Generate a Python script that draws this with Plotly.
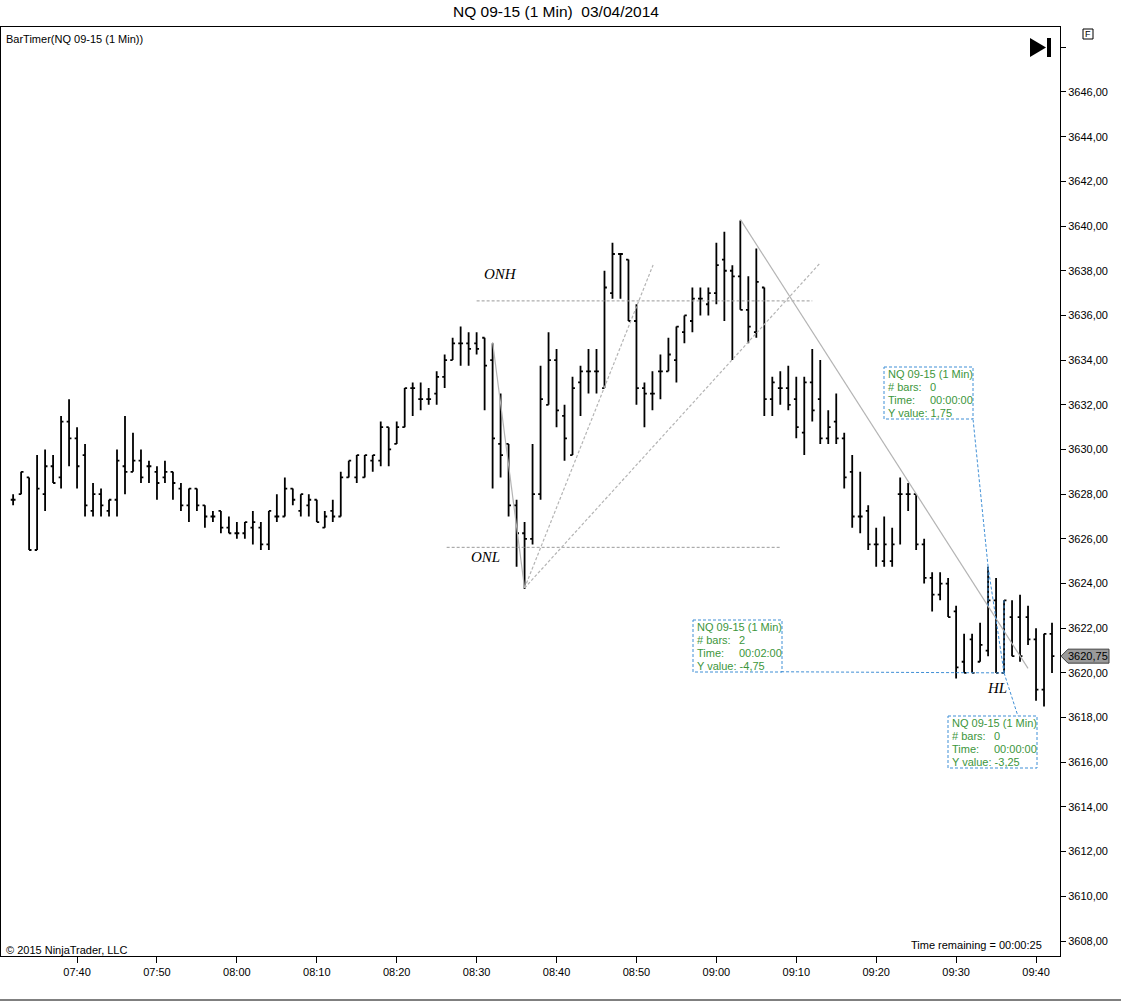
#!/usr/bin/env python3
import datetime as dt

import plotly.graph_objects as go

# ---- chart data (1 min bars, 07:32 .. 09:42) ----
DAY = "2014-03-04"
FIRST_BAR = "07:32"

opens = [
    3627.75, 3628.0, 3628.75, 3625.5, 3628.0, 3629.25, 3628.75, 3631.25, 3630.5, 3629.75,
    3627.25, 3628.0, 3627.25, 3627.75, 3629.25, 3629.0, 3629.5, 3629.25, 3629.0, 3628.75,
    3629.0, 3628.25, 3627.5, 3628.25, 3627.5, 3627.0, 3627.25, 3626.5, 3626.25, 3626.25,
    3626.5, 3626.5, 3625.75, 3627.0, 3627.0, 3628.25, 3627.25, 3627.5, 3627.75, 3626.5,
    3627.25, 3627.0, 3628.75, 3628.75, 3628.75, 3629.5, 3629.5, 3631.0, 3630.25, 3631.0,
    3632.75, 3632.25, 3632.25, 3632.5, 3633.25, 3634.0, 3634.75, 3634.75, 3634.75, 3635.0,
    3634.0, 3630.25, 3630.25, 3627.5, 3626.25, 3626.0, 3628.0, 3632.0, 3634.0, 3631.5,
    3629.75, 3633.0, 3633.5, 3633.5, 3632.75, 3637.0, 3638.75, 3638.5, 3635.75, 3632.75,
    3632.5, 3633.5, 3633.5, 3634.0, 3635.25, 3635.75, 3636.75, 3636.5, 3637.0, 3638.5,
    3638.0, 3637.75, 3636.25, 3635.25, 3637.25, 3632.25, 3632.75, 3632.75, 3632.25, 3630.75,
    3633.0, 3632.25, 3630.5, 3631.25, 3630.5, 3629.0, 3627.0, 3627.25, 3625.75, 3625.0,
    3625.0, 3628.0, 3628.0, 3628.0, 3625.75, 3624.25, 3623.5, 3624.0, 3622.75, 3620.5,
    3621.5, 3620.5, 3621.0, 3623.25, 3620.0, 3622.5, 3622.5, 3622.5, 3621.5, 3619.25,
    3621.75,
]
highs = [
    3628.0, 3629.0, 3628.75, 3629.75, 3630.0, 3629.75, 3631.5, 3632.25, 3631.0, 3630.25,
    3628.5, 3628.25, 3627.75, 3630.0, 3631.5, 3630.75, 3630.0, 3629.5, 3629.25, 3629.5,
    3629.0, 3628.5, 3628.25, 3628.25, 3627.5, 3627.25, 3627.25, 3627.0, 3626.75, 3626.75,
    3627.25, 3626.75, 3627.25, 3628.0, 3628.75, 3628.25, 3628.0, 3628.0, 3627.75, 3627.25,
    3627.75, 3629.0, 3629.5, 3629.75, 3629.75, 3629.75, 3631.25, 3631.0, 3631.25, 3632.75,
    3633.0, 3633.0, 3632.75, 3633.5, 3634.25, 3635.0, 3635.5, 3635.25, 3635.25, 3635.0,
    3634.75, 3632.5, 3630.25, 3627.75, 3626.75, 3630.25, 3633.75, 3635.25, 3634.5, 3632.0,
    3633.25, 3633.75, 3634.5, 3634.5, 3638.0, 3639.25, 3638.75, 3638.5, 3636.5, 3633.0,
    3633.5, 3634.25, 3635.0, 3635.5, 3636.0, 3637.25, 3637.25, 3637.25, 3639.25, 3639.75,
    3638.25, 3640.25, 3637.75, 3639.0, 3637.25, 3633.25, 3633.5, 3633.75, 3633.25, 3633.25,
    3634.5, 3634.0, 3631.75, 3632.5, 3630.75, 3629.75, 3629.0, 3627.5, 3626.5, 3627.0,
    3626.5, 3628.75, 3628.5, 3628.0, 3626.0, 3624.5, 3624.5, 3624.25, 3623.0, 3621.75,
    3621.75, 3622.25, 3624.75, 3624.25, 3623.25, 3623.25, 3623.5, 3623.0, 3622.0, 3621.75,
    3622.25,
]
lows = [
    3627.5, 3628.0, 3625.5, 3625.5, 3627.25, 3628.5, 3628.25, 3629.25, 3628.25, 3627.0,
    3627.0, 3627.0, 3627.0, 3627.0, 3628.0, 3629.0, 3628.5, 3628.5, 3627.75, 3628.5,
    3627.75, 3627.25, 3626.75, 3627.25, 3626.5, 3626.75, 3626.25, 3626.25, 3626.0, 3626.0,
    3625.75, 3625.5, 3625.5, 3626.75, 3627.0, 3627.5, 3627.0, 3627.0, 3626.75, 3626.5,
    3626.75, 3627.0, 3628.75, 3628.5, 3628.75, 3629.0, 3629.25, 3629.25, 3630.25, 3631.0,
    3631.5, 3631.75, 3632.0, 3632.0, 3632.75, 3634.0, 3633.75, 3633.75, 3634.25, 3631.75,
    3628.25, 3628.75, 3627.0, 3624.75, 3623.75, 3625.75, 3627.75, 3632.0, 3631.0, 3629.5,
    3629.75, 3631.5, 3632.5, 3632.5, 3632.75, 3636.75, 3636.75, 3635.75, 3632.0, 3631.0,
    3631.75, 3632.25, 3633.5, 3633.0, 3634.75, 3635.25, 3636.0, 3636.0, 3636.5, 3635.75,
    3634.0, 3636.25, 3634.75, 3635.0, 3631.5, 3631.5, 3632.0, 3631.75, 3630.5, 3629.75,
    3631.25, 3630.25, 3630.25, 3630.25, 3628.25, 3626.5, 3626.25, 3625.5, 3624.75, 3624.75,
    3624.75, 3625.75, 3627.25, 3625.5, 3624.0, 3622.75, 3623.25, 3622.5, 3619.75, 3620.0,
    3620.0, 3620.5, 3620.75, 3620.0, 3620.0, 3620.75, 3620.5, 3621.25, 3618.75, 3618.5,
    3620.0,
]
closes = [
    3627.75, 3629.0, 3625.5, 3628.25, 3629.25, 3628.5, 3631.25, 3630.5, 3629.25, 3627.5,
    3628.0, 3627.5, 3627.75, 3629.5, 3629.0, 3629.5, 3628.75, 3629.25, 3628.5, 3629.0,
    3628.5, 3627.5, 3628.25, 3627.5, 3627.0, 3627.0, 3626.5, 3626.25, 3626.25, 3626.75,
    3626.75, 3625.75, 3627.25, 3627.0, 3628.25, 3627.75, 3628.0, 3627.75, 3626.75, 3627.0,
    3627.0, 3628.75, 3629.5, 3629.75, 3629.75, 3629.75, 3631.0, 3630.0, 3631.0, 3632.75,
    3632.75, 3632.25, 3632.25, 3633.25, 3634.0, 3634.75, 3634.75, 3634.5, 3634.5, 3633.75,
    3630.5, 3629.75, 3627.5, 3626.25, 3626.0, 3628.0, 3632.25, 3634.0, 3631.75, 3630.5,
    3632.75, 3633.5, 3633.5, 3633.5, 3637.25, 3638.75, 3638.75, 3635.75, 3632.75, 3632.5,
    3632.5, 3633.5, 3634.25, 3635.5, 3636.0, 3636.75, 3636.75, 3637.0, 3638.25, 3638.0,
    3637.75, 3636.25, 3635.5, 3637.5, 3632.25, 3633.0, 3632.75, 3632.0, 3631.0, 3633.0,
    3631.75, 3630.5, 3631.0, 3630.5, 3628.75, 3627.0, 3627.0, 3625.75, 3625.75, 3625.75,
    3625.75, 3628.0, 3628.0, 3625.75, 3624.25, 3623.5, 3624.0, 3622.5, 3620.25, 3620.0,
    3620.0, 3621.25, 3623.25, 3620.0, 3623.25, 3620.75, 3620.75, 3621.5, 3619.25, 3621.75,
    3620.75,
]
last_price = 3620.75

y_ticks = [3608, 3610, 3612, 3614, 3616, 3618, 3620, 3622, 3624, 3626, 3628,
           3630, 3632, 3634, 3636, 3638, 3640, 3642, 3644, 3646, 3648]
x_ticks = ["07:40", "07:50", "08:00", "08:10", "08:20", "08:30", "08:40",
           "08:50", "09:00", "09:10", "09:20", "09:30", "09:40"]

# drawn objects (time, price)
onh = ("08:30", "09:12", 3636.65)
onl = ("08:26:15", "09:08:05", 3625.62)
trend_lines = [  # start, end, dashed?
    (("08:32", 3634.8), ("08:36", 3623.8), False),
    (("08:36", 3623.8), ("08:52:05", 3638.26), True),
    (("08:36", 3623.8), ("09:13", 3638.35), True),
    (("09:03", 3640.3), ("09:39", 3620.2), False),
]
ruler_lines = [
    (("09:34", 3624.75), ("09:36", 3620.0)),
    (("09:36", 3620.0), ("09:08:05", 3620.05)),
    (("09:34", 3623.0), ("09:34", 3624.75)),
    (("09:34", 3624.75), ("09:32:07", 3631.36)),
    (("09:36", 3623.25), ("09:36", 3620.0)),
    (("09:36", 3620.0), ("09:37:44", 3618.07)),
]
text_labels = [("ONH", "08:33", 3637.85), ("ONL", "08:31:10", 3625.19), ("HL", "09:35:05", 3619.32)]
ruler_boxes = [
    # left, top (px), bars, time, y value
    (884, 367, "0", "00:00:00", "1,75"),
    (693, 620, "2", "00:02:00", "-4,75"),
    (948, 716, "0", "00:00:00", "-3,25"),
]

# ---- layout geometry ----
W, H = 1121, 1002
PL, PR, PT, PB = 1, 1060, 27, 956
Y_LO, Y_HI = 3607.329, 3648.909
FONT = "Liberation Sans, Arial, sans-serif"
BLUE = "#3f8fd6"
GREEN = "#3c963c"


def px(x):
    return (x - PL) / (PR - PL)


def py(y):
    return (PB - y) / (PB - PT)


def ts(hm):
    return f"{DAY} {hm}"


def note(txt, x, y, anchor="center", size=11, color="black"):
    return dict(text=txt, x=px(x), y=py(y), xref="paper", yref="paper", showarrow=False,
                xanchor=anchor, yanchor="middle", font=dict(family=FONT, size=size, color=color))


start = dt.datetime.fromisoformat(ts(FIRST_BAR))
times = [start + dt.timedelta(minutes=i) for i in range(len(opens))]

fig = go.Figure()
fig.add_trace(go.Ohlc(
    x=times, open=opens, high=highs, low=lows, close=closes,
    increasing=dict(line=dict(color="black", width=1.8)),
    decreasing=dict(line=dict(color="black", width=1.8)),
    tickwidth=0.3, hoverinfo="skip", showlegend=False,
))

shapes = []
for x0, x1, yv in (onh, onl):
    shapes.append(dict(type="line", xref="x", yref="y", x0=ts(x0), x1=ts(x1), y0=yv, y1=yv,
                       line=dict(color="#9a9a9a", width=1, dash="3px,2px")))
for (ta, pa), (tb, pb), dashed in trend_lines:
    shapes.append(dict(type="line", xref="x", yref="y", x0=ts(ta), y0=pa, x1=ts(tb), y1=pb,
                       line=dict(color="#b4b4b4", width=1.2, dash="3px,2px" if dashed else "solid")))
for (ta, pa), (tb, pb) in ruler_lines:
    shapes.append(dict(type="line", xref="x", yref="y", x0=ts(ta), y0=pa, x1=ts(tb), y1=pb,
                       line=dict(color=BLUE, width=1, dash="3px,2px")))

annotations = []
for txt, t, p in text_labels:
    annotations.append(dict(text=f"<i>{txt}</i>", x=ts(t), y=p, xref="x", yref="y", showarrow=False,
                            xanchor="center", yanchor="middle",
                            font=dict(family="Liberation Serif, Times New Roman, serif", size=15, color="black")))

for bx, by, nb, tm, yv in ruler_boxes:
    shapes.append(dict(type="rect", xref="paper", yref="paper", x0=px(bx), x1=px(bx + 89),
                       y0=py(by), y1=py(by + 52), line=dict(color=BLUE, width=1, dash="3px,2px")))
    rows = [("NQ 09-15 (1 Min)", None), ("# bars:", nb), ("Time:", tm), (f"Y value: {yv}", None)]
    for i, (lab, val) in enumerate(rows):
        yy = by + 7 + 13 * i
        annotations.append(note(lab, bx + 2, yy, "left", color=GREEN))
        if val is not None:
            annotations.append(note(val, bx + 44, yy, "left", color=GREEN))

# last price marker on the price axis
ly = PB - (last_price - Y_LO) / (Y_HI - Y_LO) * (PB - PT)
shapes.append(dict(type="path", xref="paper", yref="paper",
                   path=(f"M {px(1061)},{py(ly)} L {px(1068)},{py(ly - 7)} L {px(1109)},{py(ly - 7)} "
                         f"L {px(1109)},{py(ly + 7)} L {px(1068)},{py(ly + 7)} Z"),
                   fillcolor="#9a9a9a", line=dict(color="#404040", width=1)))
annotations.append(note(f"{last_price:.2f}".replace(".", ","), 1088, ly))

# ">|" icon and "F" box
shapes.append(dict(type="path", xref="paper", yref="paper", fillcolor="black", line=dict(width=0),
                   path=f"M {px(1030)},{py(38)} L {px(1046)},{py(47.5)} L {px(1030)},{py(57)} Z"))
shapes.append(dict(type="rect", xref="paper", yref="paper", fillcolor="black", line=dict(width=0),
                   x0=px(1047), x1=px(1051), y0=py(38), y1=py(57)))
shapes.append(dict(type="rect", xref="paper", yref="paper", line=dict(color="black", width=1),
                   x0=px(1083), x1=px(1093), y0=py(29), y1=py(39)))
annotations.append(note("F", 1088, 34, size=9))
# bottom window edge
shapes.append(dict(type="line", xref="paper", yref="paper", x0=px(0), x1=px(1121), y0=py(1000), y1=py(1000),
                   line=dict(color="black", width=1)))

annotations += [
    note("NQ 09-15 (1 Min)  03/04/2014", 556, 12, size=15.5),
    note("BarTimer(NQ 09-15 (1 Min))", 4, 39, "left"),
    note("© 2015 NinjaTrader, LLC", 4, 950, "left"),
    note("Time remaining = 00:00:25", 1044, 945, "right"),
]

fig.update_layout(
    width=W, height=H,
    margin=dict(l=PL, r=W - PR, t=PT, b=H - PB),
    paper_bgcolor="white", plot_bgcolor="white",
    font=dict(family=FONT, size=11, color="black"),
    showlegend=False,
    shapes=shapes, annotations=annotations,
    xaxis=dict(
        range=[ts("07:30:29"), ts("09:43:00")],
        rangeslider=dict(visible=False),
        tickvals=[ts(t) for t in x_ticks], ticktext=x_ticks,
        ticks="outside", ticklen=6, tickcolor="black",
        showgrid=False, zeroline=False,
        showline=True, mirror=True, linecolor="black", linewidth=1,
    ),
    yaxis=dict(
        range=[Y_LO, Y_HI],
        side="right",
        tickvals=y_ticks,
        ticktext=[f"{v:.2f}".replace(".", ",") if v < 3648 else "" for v in y_ticks],
        ticks="outside", ticklen=5, tickcolor="black",
        showgrid=False, zeroline=False,
        showline=True, mirror=True, linecolor="black", linewidth=1,
    ),
)

# page body has an 8px default margin; drop it so the figure sits at the window corner
fig.write_html("out.html", config={"displayModeBar": False},
               post_script="document.body.style.margin = '0px';")
